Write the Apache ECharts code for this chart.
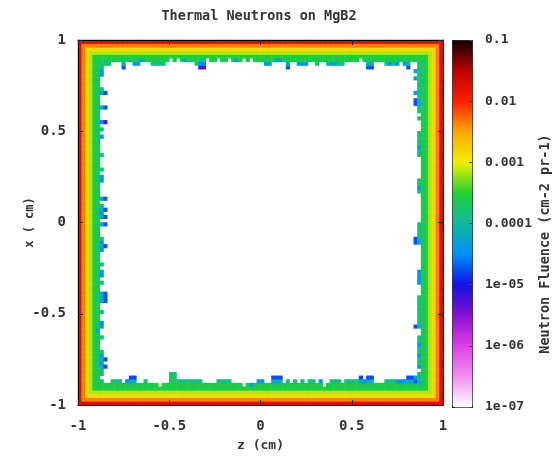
<!DOCTYPE html>
<html>
<head>
<meta charset="utf-8">
<script src="https://cdn.jsdelivr.net/npm/echarts@6/dist/echarts.min.js"></script>
<style>
  html, body { margin: 0; padding: 0; background: #fff; }
  #chart { width: 555px; height: 457px; }
</style>
</head>
<body>
<div id="chart"></div>
<script>
// 100 x 100 mesh over z, x in [-1, 1]
var N = 100;
var colorbarTicks = [-7, -6, -5, -4, -3, -2, -1];
var colorbarLabels = ['1e-07', '1e-06', '1e-05', '0.0001', '0.001', '0.01', '0.1'];

// log10 fluence of the solid band, cell 0 = outermost
var solidProfile = [-1.7, -2.35, -2.85, -3.15, -3.55];

// noisy cells inside the solid band (log10 fluence, going inward)
var noiseKinds = {
  '.': [],
  'g': [-3.65],
  't': [-4.3],
  'G': [-3.65, -3.85],
  'c': [-3.7, -4.4],
  'C': [-3.7, -3.9, -4.3],
  'b': [-3.75, -4.2, -4.75],
  'p': [-3.9, -4.5, -5.3],
  'L': [-3.6, -3.65, -3.7, -3.8]
};

// one char per mesh cell along each edge
var topEdge    = 'GGGGgGgGGg' + 'ggbggcctgg' + 'GGGGg.g.gt' + 'ggGpp.gg.g' + 'g.gtg.g.gg' +
                 'gccgttgbgg' + 'cccggGggGc' + 'cGGgggg.gb' + 'bgggGcGcgc' + 'bggGGggggg';   // left -> right
var bottomEdge = 'GGGGGGgggG' + 'GGgcbbggGg' + 'gg.ggLLGGG' + 'GGGGggggGG' + 'GGggg.gtgc' +
                 'cggbbbgGgG' + 'gGgGGgc.gG' + 'GGgGGGGbcb' + 'bgggGGGccc' + 'bbgppGgggg';   // left -> right
var leftEdge   = 'GGGGGGGGcc' + 'gggGbgggbg' + 'ggpgGgcggg' + 'gGgggGgccg' + 'gggbgGbcbg' +
                 'bgggGcbcgg' + 'gGgccgGggb' + 'bbggGggcct' + 'gGgggGcbcb' + 'GGgGGGGGgg';   // top -> bottom
var rightEdge  = 'GGGGGCGGCG' + 'CGGGCGbbGG' + 'gGgggGGGGc' + 'GGggggggGG' + 'cGgggggggg' +
                 'GGGGbbgggg' + 'gggccccggg' + 'GGGGGGGGbg' + 'gGGcGGcGGc' + 'gGCbCCCCgg';   // top -> bottom

var paletteColors = ['#ffffff', '#f090f0', '#e040e8', '#8a10d0', '#1010e8', '#0090f8', '#10b8a0',
                     '#20d030', '#f0f000', '#ffa800', '#ff2000', '#c00000', '#100000'];

function edgeValue(d, ch) {
  if (d < solidProfile.length) return solidProfile[d];
  var k = noiseKinds[ch] || [];
  return k[d - solidProfile.length];
}

var cells = [];
var cats = [];
for (var n = 0; n < N; n++) cats.push(n);
for (var i = 0; i < N; i++) {
  for (var j = 0; j < N; j++) {
    var vals = [
      edgeValue(j, bottomEdge[i]),
      edgeValue(N - 1 - j, topEdge[i]),
      edgeValue(i, leftEdge[N - 1 - j]),
      edgeValue(N - 1 - i, rightEdge[N - 1 - j])
    ].filter(function (v) { return v !== undefined; });
    if (vals.length) cells.push([i, j, Math.max.apply(null, vals)]);
  }
}

var font = 'DejaVu Sans Mono';

function frameAxis(pos, labels) {
  return {
    type: 'value', gridIndex: 1, position: pos, min: -1, max: 1, interval: 0.5, z: 10,
    axisLine: { show: true, onZero: false, lineStyle: { color: '#000', width: 1 } },
    axisTick: { show: true, inside: true, length: 5, lineStyle: { color: '#222' } },
    axisLabel: { show: labels, margin: 14, fontFamily: font, fontWeight: 'bold', fontSize: 14, color: '#333' },
    splitLine: { show: false }
  };
}

var chart = echarts.init(document.getElementById('chart'));
var xBottom = frameAxis('bottom', true);
xBottom.name = 'z (cm)';
xBottom.nameLocation = 'middle';
xBottom.nameGap = 34;
xBottom.nameMoveOverlap = false;
xBottom.nameTextStyle = { fontFamily: font, fontWeight: 'bold', fontSize: 13, color: '#333' };
var yLeft = frameAxis('left', true);
yLeft.axisLabel.margin = 12;
yLeft.name = 'x ( cm)';
yLeft.nameLocation = 'middle';
yLeft.nameGap = 42;
yLeft.nameRotate = 90;
yLeft.nameMoveOverlap = false;
yLeft.nameTextStyle = { fontFamily: font, fontWeight: 'bold', fontSize: 12, color: '#333' };

chart.setOption({
  animation: false,
  backgroundColor: '#fff',
  title: {
    text: 'Thermal Neutrons on MgB2', left: 259, top: 9, padding: 0, textAlign: 'center',
    textStyle: { fontFamily: font, fontWeight: 'bold', fontSize: 13.5, color: '#333' }
  },
  graphic: [{
    type: 'text', x: 545, y: 244, rotation: Math.PI / 2,
    style: {
      text: 'Neutron Fluence (cm-2 pr-1)', align: 'center', verticalAlign: 'middle',
      font: 'bold 13.5px "DejaVu Sans Mono"', fill: '#333'
    }
  }],
  grid: [
    { left: 78, top: 40, width: 365, height: 365 },
    { left: 78, top: 40, width: 365, height: 365 },
    { left: 452, top: 40, width: 20, height: 367 }
  ],
  xAxis: [
    { type: 'category', gridIndex: 0, data: cats, show: false },
    xBottom,
    frameAxis('top', false),
    { type: 'value', gridIndex: 2, show: false, min: 0, max: 1 }
  ],
  yAxis: [
    { type: 'category', gridIndex: 0, data: cats, show: false },
    yLeft,
    frameAxis('right', false),
    {
      type: 'value', gridIndex: 2, position: 'right', min: -7, max: -1, interval: 1, z: 10,
      axisLine: { show: false, onZero: false },
      axisTick: { show: true, inside: true, length: 3, lineStyle: { color: '#444' } },
      splitLine: { show: false },
      axisLabel: {
        margin: 13, fontFamily: font, fontWeight: 'bold', fontSize: 13, color: '#333',
        formatter: function (v) { return colorbarLabels[colorbarTicks.indexOf(v)]; }
      }
    }
  ],
  visualMap: {
    type: 'continuous', min: -7, max: -1, dimension: 2, seriesIndex: 0,
    calculable: false, show: true, text: null, padding: 0,
    left: 452, top: 40, itemWidth: 20, itemHeight: 367,
    borderColor: '#000', borderWidth: 1,
    inRange: { color: paletteColors }
  },
  series: [{
    type: 'heatmap', xAxisIndex: 0, yAxisIndex: 0, data: cells,
    progressive: 0, emphasis: { disabled: true }
  }]
});
</script>
</body>
</html>
